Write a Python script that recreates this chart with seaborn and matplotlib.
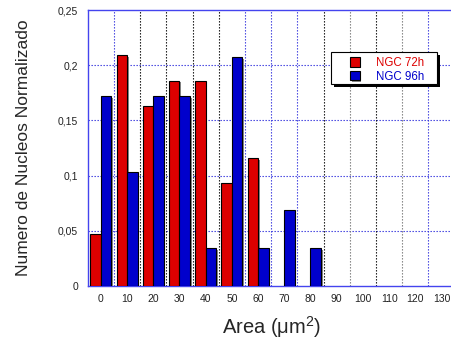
import matplotlib
matplotlib.use("Agg")
import matplotlib.pyplot as plt
import matplotlib.patheffects as pe
from matplotlib.patches import Rectangle
import seaborn as sns
import pandas as pd

categories = ["0", "10", "20", "30", "40", "50", "60", "70", "80", "90", "100", "110", "120", "130"]
ngc72 = [0.047, 0.209, 0.163, 0.186, 0.186, 0.093, 0.116, 0, 0, 0, 0, 0, 0, 0]
ngc96 = [0.172, 0.103, 0.172, 0.172, 0.034, 0.207, 0.034, 0.069, 0.034, 0, 0, 0, 0, 0]
series_names = ["NGC 72h", "NGC 96h"]
yticks = [0, 0.05, 0.1, 0.15, 0.2, 0.25]
ytick_labels = ["0", "0,05", "0,1", "0,15", "0,2", "0,25"]

rows = []
for name, vals in zip(series_names, [ngc72, ngc96]):
    for c, v in zip(categories, vals):
        if v > 0:
            rows.append({"Area": c, "value": v, "serie": name})
df = pd.DataFrame(rows)

sns.set_style("white")
plt.rcParams["font.family"] = ["Liberation Sans", "DejaVu Sans"]

W, H = 452, 342
fig = plt.figure(figsize=(W / 100, H / 100), dpi=100)
slot = 26.2
left_px = 87.8
ax = fig.add_axes([left_px / W, 1 - 286 / H, 14 * slot / W, (286 - 10) / H])

red = "#dd0000"
blue = "#0000cc"
sns.barplot(data=df, x="Area", y="value", hue="serie", order=categories,
            hue_order=series_names, palette=[red, blue], width=0.8,
            edgecolor="black", linewidth=0.8, saturation=1, ax=ax, legend=True,
            zorder=3)
for p in ax.patches:
    p.set_path_effects([pe.SimplePatchShadow(offset=(1.2, -1.2), shadow_rgbFace="#888888", alpha=1), pe.Normal()])

ax.set_xlim(-0.5, 13.5)
ax.set_ylim(0, 0.25)
ax.set_yticks(yticks)
ax.set_yticklabels(ytick_labels)
ax.tick_params(axis="both", length=0, labelsize=7.5, colors="#222222")
ax.tick_params(axis="y", pad=7)
ax.tick_params(axis="x", pad=6)

for y in yticks[1:-1]:
    ax.axhline(y, color="#3333dd", linestyle=(0, (1.2, 1.5)), linewidth=0.8, zorder=1)
vcolors = ["#3333dd", "black", "black", "black", "black", "#3333dd", "#3333dd",
           "#3333dd", "black", "#777777", "black", "#777777", "#3333dd"]
for i, col in enumerate(vcolors):
    ax.axvline(i + 0.5, color=col, linestyle=(0, (1.2, 1.5)), linewidth=0.8, zorder=1)

for s in ["left", "bottom", "top", "right"]:
    ax.spines[s].set_color("#4444ee")
    ax.spines[s].set_linewidth(1.0)

ax.set_xlabel("Area ($\\mathregular{\\mu m^2}$)", fontsize=14.5, labelpad=7)
ax.set_ylabel("Numero de Nucleos Normalizado", fontsize=12.5, labelpad=19)

# legend box (drawn manually to match the asymmetric padding)
shadow = Rectangle((334 / W, 1 - 87 / H), 106 / W, 32 / H, transform=fig.transFigure,
                   facecolor="black", edgecolor="none", zorder=4, clip_on=False)
box = Rectangle((331 / W, 1 - 84 / H), 106 / W, 32 / H, transform=fig.transFigure,
                facecolor="white", edgecolor="black", linewidth=0.8, zorder=4.5, clip_on=False)
ax.add_artist(shadow)
ax.add_artist(box)

leg = ax.legend(loc="upper left", bbox_to_anchor=(350 / W, 1 - 57 / H),
                bbox_transform=fig.transFigure, frameon=False,
                fontsize=8.3, handlelength=0.85, handleheight=0.85,
                borderpad=0, labelspacing=0.15, handletextpad=1.4, borderaxespad=0)
leg.set_zorder(6)
for t, c in zip(leg.get_texts(), [red, blue]):
    t.set_color(c)
for h in leg.legend_handles:
    h.set_edgecolor("black")
    h.set_linewidth(0.8)

fig.savefig("out.png", dpi=100)
